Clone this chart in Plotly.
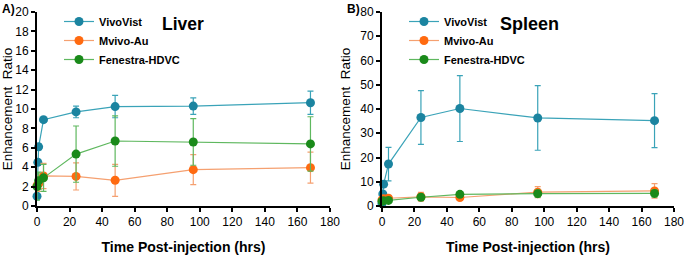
import plotly.graph_objects as go
from plotly.subplots import make_subplots

time = [0, 0.5, 1, 4, 24, 48, 96, 168]
time_b = [0, 1, 4, 24, 48, 96, 168]

liver_vivo = [1.0, 4.5, 6.1, 8.9, 9.7, 10.25, 10.3, 10.65]
liver_vivo_err = [0.1, 0.3, 0.3, 0.2, 0.6, 1.15, 0.85, 1.2]
liver_mau = [2.1, 2.3, 3.1, 3.05, 2.65, 3.75, 3.95]
liver_mau_err = [0.5, 0.8, 1.3, 1.4, 1.65, 1.55, 1.6]
liver_fen = [2.0, 2.6, 2.9, 5.35, 6.7, 6.6, 6.4]
liver_fen_err = [1.4, 0.9, 1.4, 2.9, 2.6, 2.4, 2.8]

spleen_vivo = [1.0, 5.0, 9.0, 17.3, 36.5, 40.2, 36.3, 35.2]
spleen_vivo_err = [0.3, 0.8, 1.0, 6.9, 11.1, 13.6, 13.3, 11.1]
spleen_mau = [2.5, 3.0, 3.2, 3.8, 3.5, 5.7, 6.2]
spleen_mau_err = [0.6, 0.8, 0.8, 1.8, 1.0, 2.3, 3.0]
spleen_fen = [2.0, 2.2, 2.3, 3.6, 4.8, 5.1, 5.2]
spleen_fen_err = [0.4, 0.5, 0.5, 1.2, 1.0, 1.5, 1.5]

names = ["VivoVist", "Mvivo-Au", "Fenestra-HDVC"]
colors = ["#1b84a0", "#ff6a10", "#1a8a1a"]
err_colors = ["#3aa3b8", "#f5a070", "#5fb85f"]

FONT = "Liberation Sans, Arial"
W, H = 688, 255
fig = make_subplots(rows=1, cols=2)

def add(xs, ys, es, i, col, legend):
    fig.add_trace(go.Scatter(
        x=xs, y=ys, mode="lines+markers", name="<b>" + names[i] + "</b>",
        line=dict(color=err_colors[i], width=1.2),
        marker=dict(color=colors[i], size=9),
        error_y=dict(type="data", array=es, color=err_colors[i], thickness=1.2, width=3),
        cliponaxis=False, legend=legend, showlegend=True,
    ), row=1, col=col)

add(time, liver_vivo, liver_vivo_err, 0, 1, "legend")
add(time_b, liver_mau, liver_mau_err, 1, 1, "legend")
add(time_b, liver_fen, liver_fen_err, 2, 1, "legend")
add(time, spleen_vivo, spleen_vivo_err, 0, 2, "legend2")
add(time_b, spleen_mau, spleen_mau_err, 1, 2, "legend2")
add(time_b, spleen_fen, spleen_fen_err, 2, 2, "legend2")

px = lambda v: v / W
py = lambda v: 1 - v / H

axis_common = dict(showline=True, linecolor="black", linewidth=2, ticks="outside",
                   ticklen=4, tickwidth=1.5, tickcolor="black", showgrid=False,
                   zeroline=False, automargin=False,
                   tickfont=dict(family=FONT, size=12, color="black"))

fig.update_xaxes(**axis_common, range=[0, 180], dtick=20,
                 title=dict(text="<b>Time Post-injection (hrs)</b>",
                            font=dict(family=FONT, size=14, color="black"),
                            standoff=14))
fig.update_yaxes(**axis_common,
                 title=dict(text="Enhancement  Ratio",
                            font=dict(family=FONT, size=13.5, color="black"),
                            standoff=7))
fig.update_xaxes(domain=[px(37), px(330)], row=1, col=1)
fig.update_xaxes(domain=[px(382), px(674)], row=1, col=2)
fig.update_yaxes(domain=[py(206), py(12)], range=[0, 20], dtick=2, row=1, col=1)
fig.update_yaxes(domain=[py(206), py(12)], range=[0, 80], dtick=10, row=1, col=2)

legend_common = dict(font=dict(family=FONT, size=11, color="black"),
                     bgcolor="rgba(0,0,0,0)", xanchor="left", yanchor="top",
                     itemwidth=30, tracegroupgap=0)
fig.update_layout(
    width=W, height=H, margin=dict(l=0, r=0, t=0, b=0),
    plot_bgcolor="white", paper_bgcolor="white",
    legend=dict(**legend_common, x=px(59), y=py(7)),
    legend2=dict(**legend_common, x=px(404), y=py(7)),
    font=dict(family=FONT, color="black"),
)

for (txt, x, y, s) in [("<b>Liver</b>", 183, 24, 17.5), ("<b>Spleen</b>", 529, 24, 18),
                       ("<b>A)</b>", 8, 9, 12), ("<b>B)</b>", 353, 9, 12)]:
    fig.add_annotation(text=txt, x=px(x), y=py(y), xref="paper", yref="paper",
                       showarrow=False, font=dict(size=s, family=FONT, color="black"),
                       xanchor="center", yanchor="middle")

fig.write_html("out.html")
